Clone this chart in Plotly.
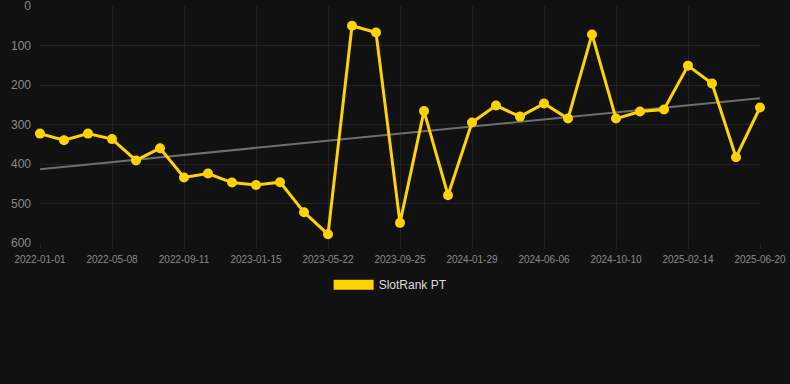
import numpy as np
import plotly.graph_objects as go

dates = [
    "2022-01-01", "2022-02-12", "2022-03-26", "2022-05-08", "2022-06-19", "2022-07-31",
    "2022-09-11", "2022-10-23", "2022-12-04", "2023-01-15", "2023-02-26", "2023-04-09",
    "2023-05-22", "2023-07-03", "2023-08-14", "2023-09-25", "2023-11-06", "2023-12-18",
    "2024-01-29", "2024-03-12", "2024-04-24", "2024-06-06", "2024-07-18", "2024-08-29",
    "2024-10-10", "2024-11-21", "2025-01-02", "2025-02-14", "2025-03-28", "2025-05-09",
    "2025-06-20",
]
ranks = [323, 340, 323, 337, 391, 360, 434, 424, 447, 453, 446, 522, 578, 50, 67,
         549, 266, 479, 295, 252, 280, 247, 285, 72, 285, 267, 262, 151, 196, 383, 257]
tick_labels = dates[::3]
y_ticks = [0, 100, 200, 300, 400, 500, 600]

idx = np.arange(len(ranks))
slope, intercept = np.polyfit(idx, ranks, 1)
trend = slope * idx + intercept

YELLOW = "#FFD200"
BG = "#111111"
GRID = "#232323"

fig = go.Figure()
fig.add_trace(go.Scatter(
    x=dates, y=trend, mode="lines",
    line=dict(color="#6e6e6e", width=2),
    showlegend=False, hoverinfo="skip",
))
fig.add_trace(go.Scatter(
    x=dates, y=ranks, mode="lines+markers",
    line=dict(color=YELLOW, width=3),
    marker=dict(color=YELLOW, size=10),
    name="SlotRank PT", showlegend=False, cliponaxis=False,
))
fig.add_trace(go.Scatter(
    x=[None], y=[None], mode="lines",
    line=dict(color=YELLOW, width=10),
    name="SlotRank PT", showlegend=True,
))

fig.update_layout(
    width=790, height=384,
    paper_bgcolor=BG, plot_bgcolor=BG,
    margin=dict(l=40, r=30, t=6, b=141, autoexpand=False),
    font=dict(family="Liberation Sans, Arial, sans-serif", color="#8a8a8a"),
    showlegend=True,
    legend=dict(
        orientation="h", x=0.487, xanchor="center", y=-0.115, yanchor="top",
        font=dict(size=12, color="#dddddd"), itemwidth=40,
        bgcolor="rgba(0,0,0,0)",
    ),
)
fig.update_xaxes(
    type="category", categoryorder="array", categoryarray=dates,
    range=[0, len(dates) - 1], automargin=False,
    tickmode="array", tickvals=tick_labels, ticktext=tick_labels,
    showgrid=True, gridcolor=GRID, gridwidth=1,
    ticks="outside", ticklen=5, tickcolor=GRID, ticklabelstandoff=2,
    ticklabeloverflow="allow",
    tickfont=dict(size=10, color="#8a8a8a"),
    showline=False, zeroline=False,
)
fig.update_yaxes(
    range=[600, 0], tickmode="array", tickvals=y_ticks, automargin=False,
    showgrid=True, gridcolor=GRID, gridwidth=1,
    tickfont=dict(size=12, color="#8a8a8a"),
    zeroline=False, showline=False, ticks="",
    ticklabelstandoff=8, ticklabeloverflow="allow",
)

fig.write_html("out.html", config={"displayModeBar": False})
with open("out.html", "r", encoding="utf-8") as f:
    html = f.read()
html = html.replace("<head>", "<head><style>html,body{margin:0;padding:0;background:#111111;}</style>", 1)
with open("out.html", "w", encoding="utf-8") as f:
    f.write(html)
